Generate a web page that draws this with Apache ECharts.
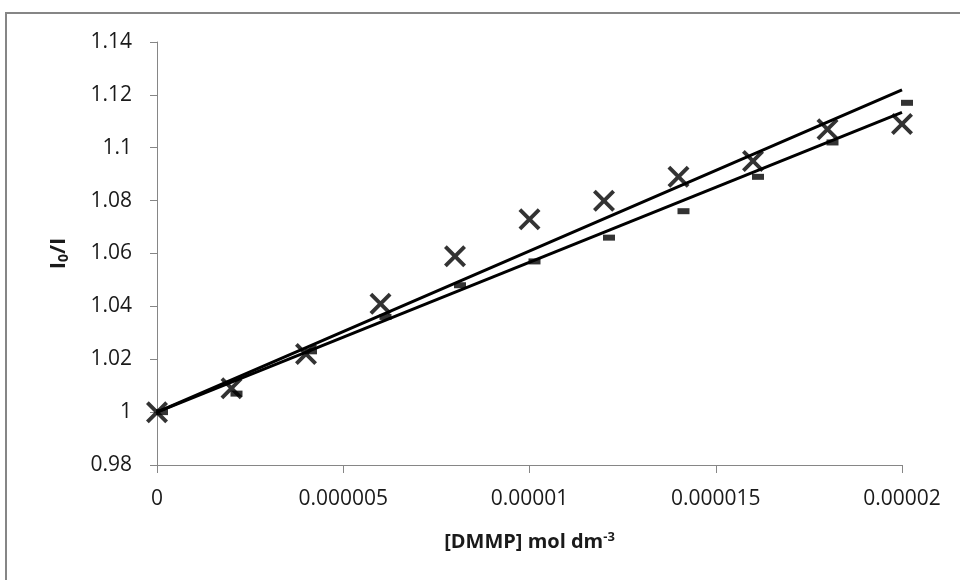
<!DOCTYPE html>
<html>
<head>
<meta charset="utf-8">
<script src="https://cdn.jsdelivr.net/npm/echarts@6/dist/echarts.min.js"></script>
<style>html,body{margin:0;padding:0;background:#fff}#c{width:960px;height:580px}</style>
</head>
<body>
<div id="c"></div>
<script>
const concentration = [0, 0.000002, 0.000004, 0.000006, 0.000008, 0.00001, 0.000012, 0.000014, 0.000016, 0.000018, 0.00002];
const ratioCross = [1.000, 1.009, 1.022, 1.041, 1.059, 1.073, 1.080, 1.089, 1.095, 1.107, 1.109];
const ratioDash  = [1.000, 1.007, 1.023, 1.036, 1.048, 1.057, 1.066, 1.076, 1.089, 1.102, 1.117];
const xTickLabels = ['0', '0.000005', '0.00001', '0.000015', '0.00002'];
const yTickLabels = ['0.98', '1', '1.02', '1.04', '1.06', '1.08', '1.1', '1.12', '1.14'];

// trendlines: least squares with intercept fixed at 1 (as in the original spreadsheet)
function fitThroughOne(xs, ys) {
  let num = 0, den = 0;
  for (let i = 0; i < xs.length; i++) { num += xs[i] * (ys[i] - 1); den += xs[i] * xs[i]; }
  return num / den;
}
const xMaxData = concentration[concentration.length - 1];
const slopeCross = fitThroughOne(concentration, ratioCross);
const slopeDash = fitThroughOne(concentration, ratioDash);

const crossPath = 'path://M0,2.5L2.5,0L10,7.5L17.5,0L20,2.5L12.5,10L20,17.5L17.5,20L10,12.5L2.5,20L0,17.5L7.5,10Z';
const font = 'Open Sans';
const chart = echarts.init(document.getElementById('c'), null, {renderer: 'canvas'});
chart.setOption({
  animation: false,
  backgroundColor: '#fff',
  graphic: [{
    type: 'rect', shape: {x: 6, y: 13, width: 980, height: 600},
    style: {fill: 'none', stroke: '#868686', lineWidth: 2}, silent: true, z: -1
  }],
  grid: {left: 157, right: 58, top: 42, bottom: 115},
  xAxis: {
    type: 'value', min: 0, max: 0.00002, interval: 0.000005,
    splitLine: {show: false},
    axisLine: {lineStyle: {color: '#868686', width: 1}},
    axisTick: {show: true, length: 8, lineStyle: {color: '#868686'}},
    axisLabel: {
      margin: 24, color: '#1a1a1a', fontFamily: font, fontSize: 21,
      formatter: v => xTickLabels[Math.round(v / 0.000005)]
    },
    name: '{a|[DMMP] mol dm}{s|-3}',
    nameLocation: 'middle', nameGap: 66,
    nameTextStyle: {
      rich: {
        a: {fontFamily: font, fontSize: 20, fontWeight: 'bold', color: '#1a1a1a'},
        s: {fontFamily: font, fontSize: 13, fontWeight: 'bold', color: '#1a1a1a', padding: [0, 0, 10, 0]}
      }
    }
  },
  yAxis: {
    type: 'value', min: 0.98, max: 1.14, interval: 0.02,
    splitLine: {show: false},
    axisLine: {show: true, lineStyle: {color: '#868686', width: 1}},
    axisTick: {show: true, length: 7, lineStyle: {color: '#868686'}},
    axisLabel: {
      margin: 25, color: '#1a1a1a', fontFamily: font, fontSize: 21,
      formatter: v => yTickLabels[Math.round((v - 0.98) / 0.02)]
    },
    name: '{a|I}{s|0}{a|/I}',
    nameLocation: 'middle', nameGap: 86,
    nameTextStyle: {
      rich: {
        a: {fontFamily: font, fontSize: 22, fontWeight: 'bold', color: '#1a1a1a'},
        s: {fontFamily: font, fontSize: 14, fontWeight: 'bold', color: '#1a1a1a', padding: [10, 0, 0, 0]}
      }
    }
  },
  series: [
    {
      type: 'scatter', name: 'cross',
      data: concentration.map((x, i) => [x, ratioCross[i]]),
      symbol: crossPath, symbolSize: 22,
      itemStyle: {color: '#000'}, z: 3
    },
    {
      type: 'scatter', name: 'dash',
      data: concentration.map((x, i) => [x, ratioDash[i]]),
      symbol: 'rect', symbolSize: [12, 6], symbolOffset: [5, 0],
      itemStyle: {color: '#000'}, z: 3
    },
    {
      type: 'line', name: 'trend cross',
      data: [[0, 1], [xMaxData, 1 + slopeCross * xMaxData]],
      symbol: 'none', lineStyle: {color: '#000', width: 3}, z: 4
    },
    {
      type: 'line', name: 'trend dash',
      data: [[0, 1], [xMaxData, 1 + slopeDash * xMaxData]],
      symbol: 'none', lineStyle: {color: '#000', width: 3}, z: 4
    }
  ]
});
</script>
</body>
</html>
